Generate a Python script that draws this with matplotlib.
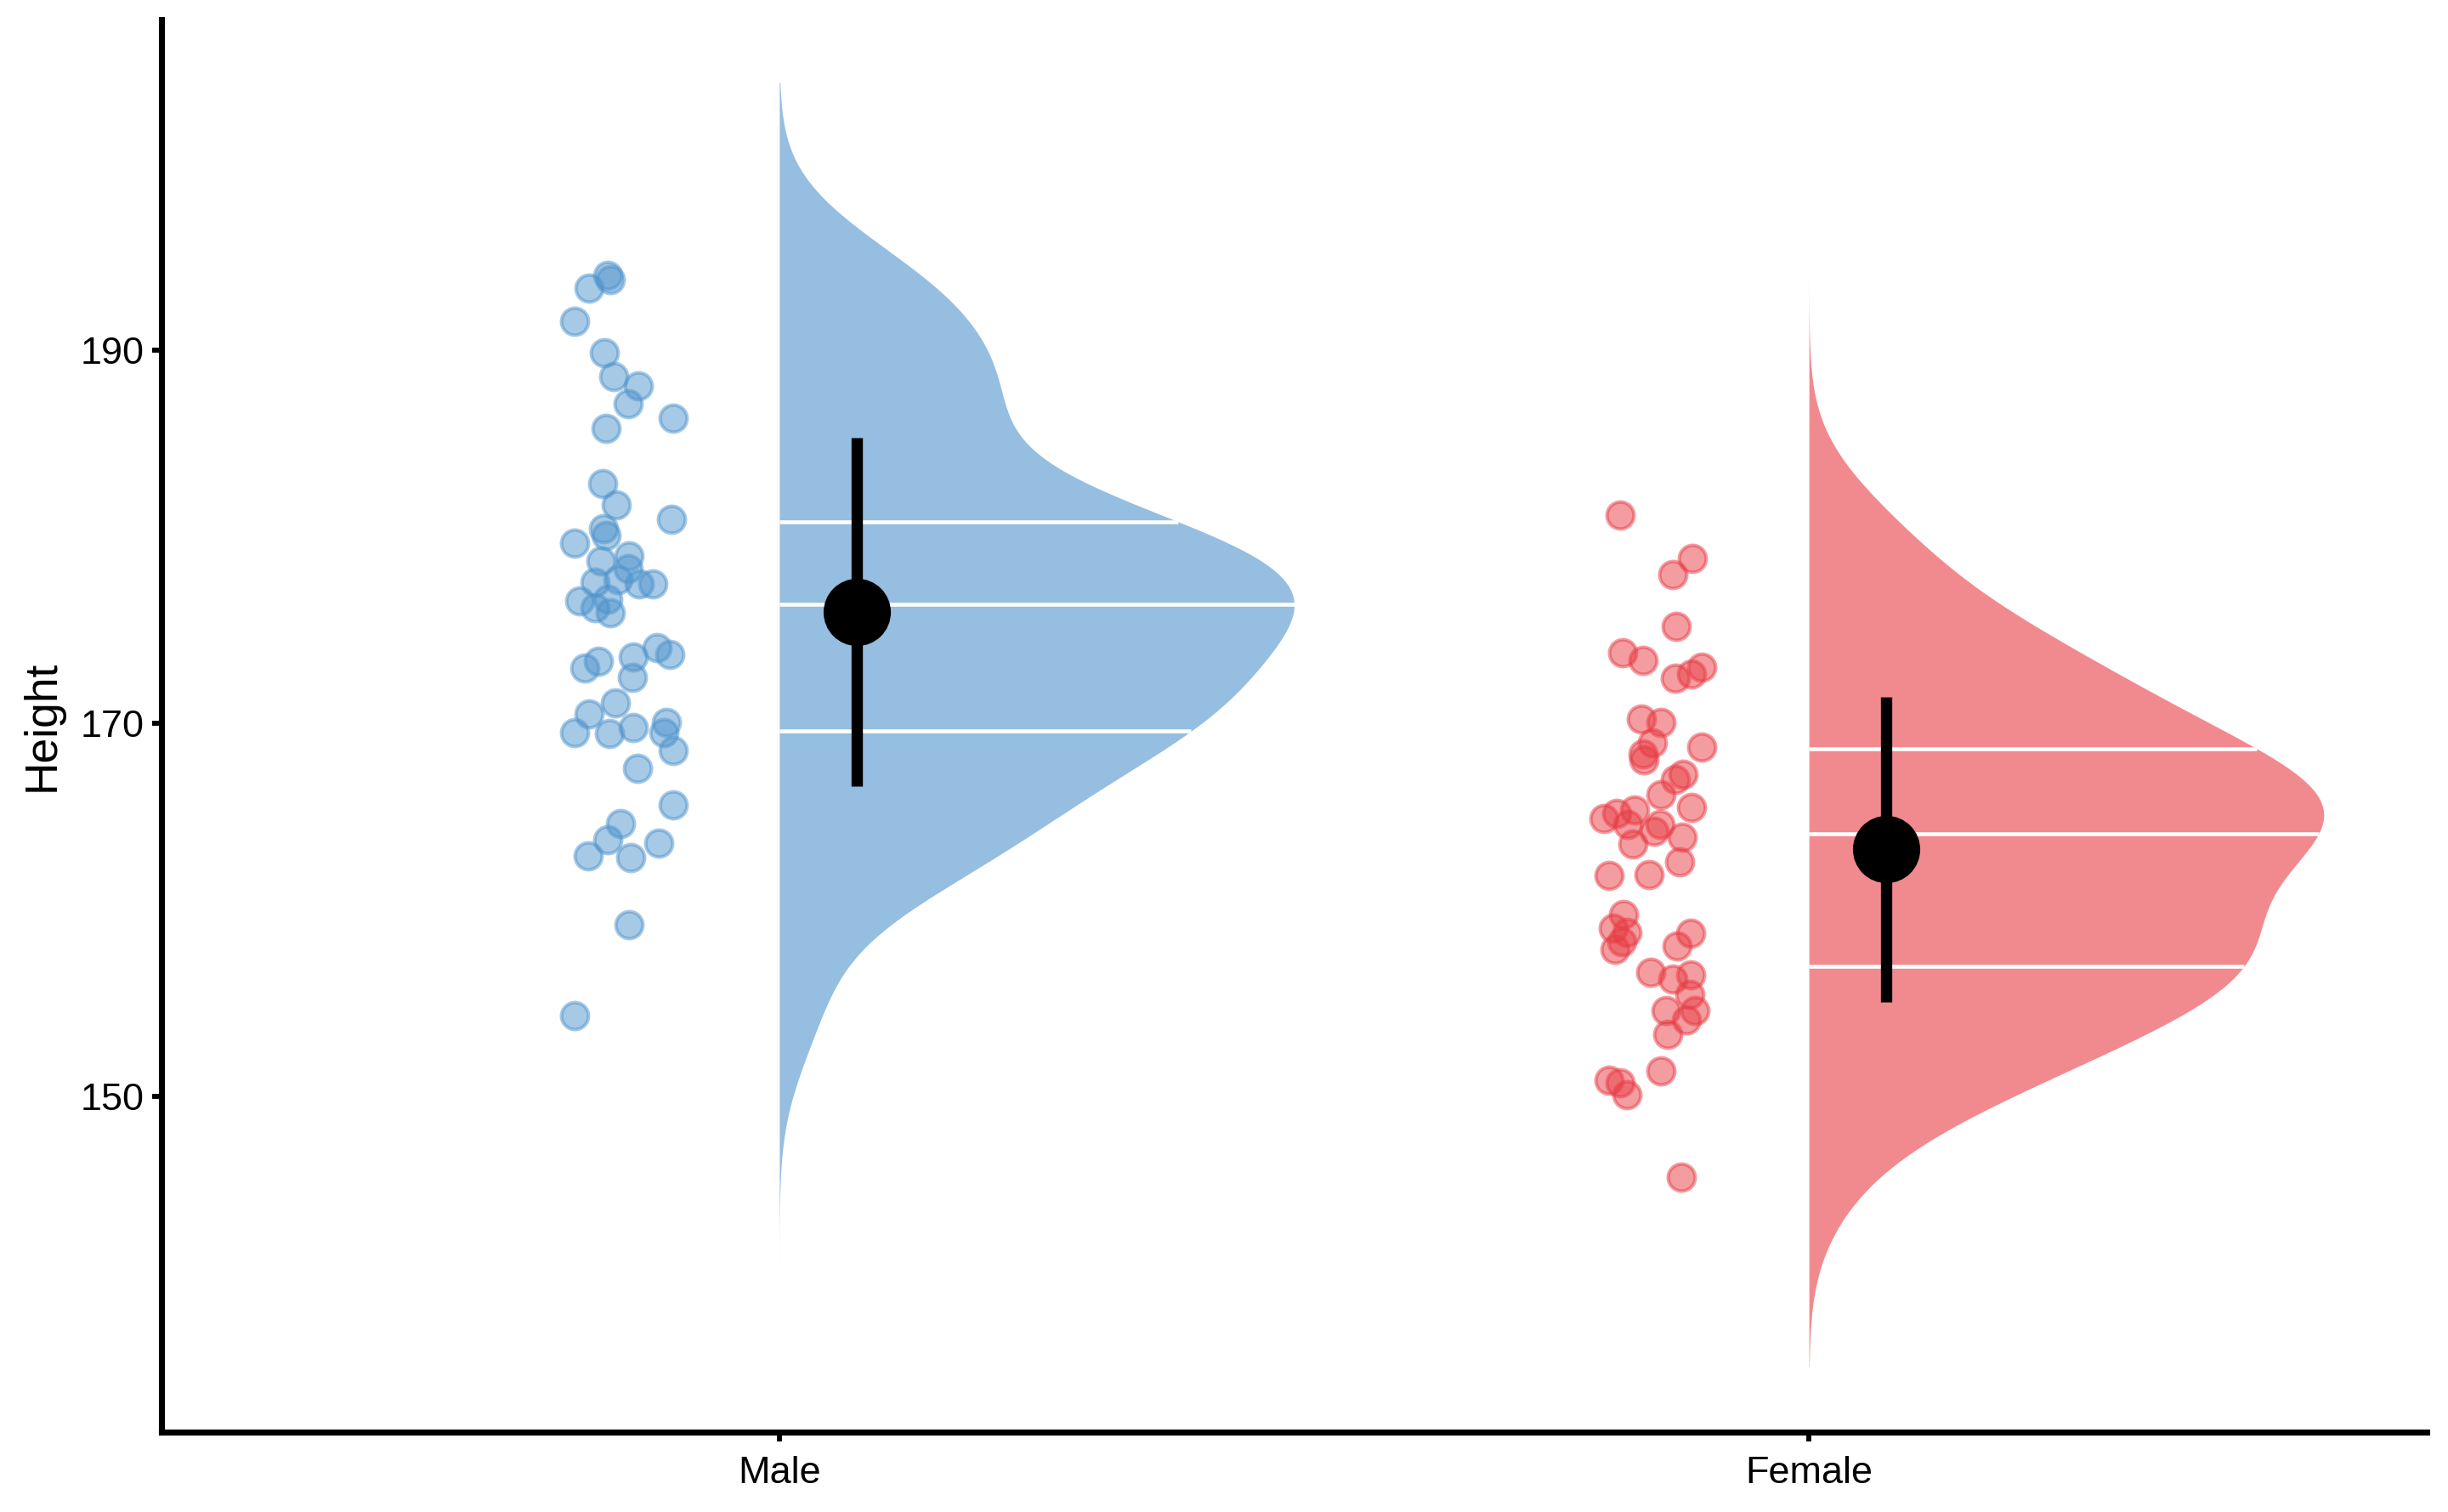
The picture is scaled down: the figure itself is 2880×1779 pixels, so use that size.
import numpy as np
import matplotlib
matplotlib.use("Agg")
import matplotlib.pyplot as plt

plt.rcParams['font.family'] = ['Liberation Sans', 'DejaVu Sans']

# data
categories = ["Male", "Female"]

male_height = [193.29, 193.99, 193.76, 191.51, 189.84, 188.58, 188.05, 187.11, 186.35, 185.79,
               182.81, 181.67, 180.91, 180.42, 180.05, 179.62, 178.68, 178.98, 178.26, 177.54,
               177.70, 177.46, 177.46, 176.55, 176.17, 176.63, 175.91, 172.95, 173.32, 173.54,
               174.02, 173.67, 172.45, 171.08, 170.48, 169.49, 169.44, 169.75, 170.02, 169.49,
               168.55, 167.59, 165.62, 164.63, 163.77, 162.88, 162.77, 163.57, 159.19, 154.31]
male_jitter = [-0.185, -0.167, -0.164, -0.199, -0.170, -0.161, -0.137, -0.147, -0.103, -0.168,
               -0.172, -0.158, -0.105, -0.171, -0.168, -0.199, -0.173, -0.146, -0.147, -0.179,
               -0.157, -0.136, -0.123, -0.194, -0.179, -0.167, -0.164, -0.189, -0.176, -0.142,
               -0.119, -0.106, -0.143, -0.159, -0.185, -0.199, -0.165, -0.142, -0.110, -0.112,
               -0.103, -0.138, -0.103, -0.154, -0.167, -0.186, -0.144, -0.117, -0.146, -0.199]

female_height = [181.15, 178.80, 177.95, 175.18, 173.75, 173.36, 172.42, 172.63, 172.98, 170.21,
                 170.02, 168.96, 168.35, 168.05, 168.73, 167.26, 166.98, 166.15, 165.50, 164.89,
                 165.16, 165.32, 164.59, 164.59, 164.22, 163.90, 163.52, 162.55, 161.85, 161.87,
                 159.73, 159.01, 158.78, 158.26, 157.87, 158.74, 158.05, 156.66, 156.28, 156.51,
                 155.44, 154.61, 154.61, 154.11, 153.32, 151.38, 150.84, 150.71, 150.08, 145.65]
female_jitter = [-0.183, -0.113, -0.132, -0.129, -0.181, -0.161, -0.130, -0.114, -0.104, -0.163,
                 -0.144, -0.152, -0.161, -0.160, -0.104, -0.122, -0.130, -0.144, -0.114, -0.199,
                 -0.187, -0.169, -0.176, -0.145, -0.150, -0.123, -0.171, -0.126, -0.194, -0.155,
                 -0.180, -0.190, -0.177, -0.182, -0.188, -0.115, -0.128, -0.154, -0.132, -0.115,
                 -0.116, -0.111, -0.139, -0.119, -0.137, -0.144, -0.194, -0.183, -0.177, -0.124]

colors = ["#4F94CD", "#E83C44"]


def bw_nrd0(x):
    # same rule as R's default bandwidth
    sd = x.std(ddof=1)
    iqr = np.percentile(x, 75) - np.percentile(x, 25)
    return 0.9 * min(sd, iqr / 1.34) * len(x) ** -0.2


def kde(x, bw, lo, hi, n=512):
    grid = np.linspace(lo, hi, n)
    z = (grid[:, None] - x[None, :]) / bw
    dens = np.exp(-0.5 * z ** 2).sum(axis=1) / (len(x) * bw * np.sqrt(2 * np.pi))
    return grid, dens


fig = plt.figure(figsize=(9.6, 5.93), dpi=300)
ax = fig.add_axes([0.0660, 0.0528, 0.9253, 0.9343])

groups = [(male_height, male_jitter), (female_height, female_jitter)]
all_vals = np.concatenate([male_height, female_height])
for i, (vals, jit) in enumerate(groups):
    vals = np.asarray(vals)
    col = colors[i]

    # half violin (density over the pooled range, cut = 3 bandwidths)
    bw = bw_nrd0(vals)
    grid, dens = kde(vals, bw, all_vals.min() - 3 * bw, all_vals.max() + 3 * bw)
    w = dens / dens.max() * 0.5
    ax.fill_betweenx(grid, i, i + w, color=col, alpha=0.6, lw=0, zorder=1)

    # quartile lines
    for q in np.percentile(vals, [25, 50, 75]):
        ax.plot([i, i + np.interp(q, grid, w)], [q, q], color="white", lw=1.1,
                solid_capstyle="butt", zorder=2)

    # raw points
    ax.scatter(i + np.asarray(jit), vals, s=58, facecolor=col, edgecolor=col,
               alpha=0.5, linewidths=1.0, zorder=3)

    # mean +/- sd
    m, sd = vals.mean(), vals.std(ddof=1)
    ax.plot([i + 0.075, i + 0.075], [m - sd, m + sd], color="black", lw=3.2,
            solid_capstyle="butt", zorder=4)
    ax.plot(i + 0.075, m, "o", color="black", ms=18, zorder=5)

ax.set_xlim(-0.6, 1.6)
ax.set_ylim(132.0, 207.7)
ax.set_xticks([0, 1])
ax.set_xticklabels(categories)
ax.set_yticks([150, 170, 190])
ax.set_ylabel("Height", fontsize=12.8, labelpad=5)

for s in ["top", "right"]:
    ax.spines[s].set_visible(False)
for s in ["left", "bottom"]:
    ax.spines[s].set_linewidth(1.7)
    ax.spines[s].set_capstyle("projecting")
ax.tick_params(axis="both", length=2.6, width=1.4, labelsize=10.8, colors="black")
ax.tick_params(axis="y", pad=2.2)
ax.tick_params(axis="x", pad=4.0)

fig.savefig("out.png", dpi=300)
